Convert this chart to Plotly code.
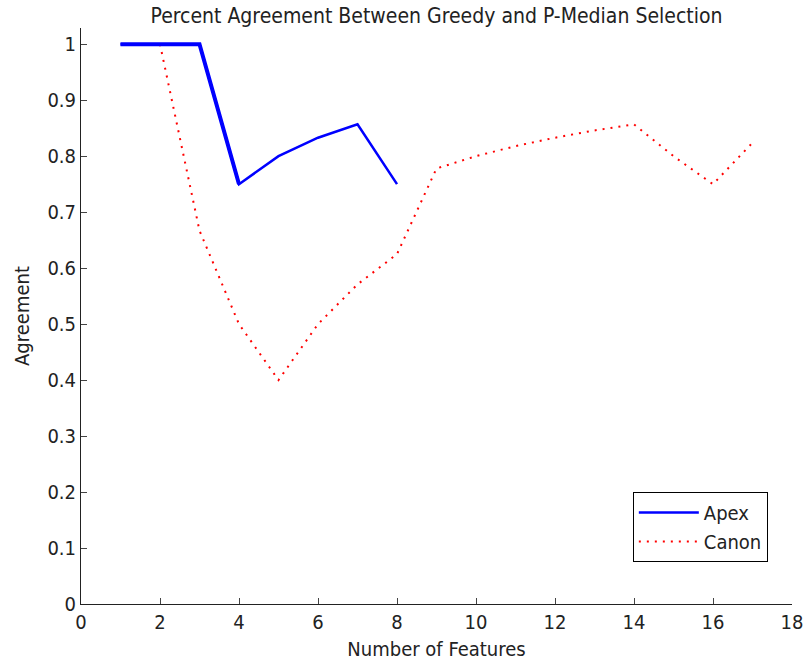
import plotly.graph_objects as go

apex_x = [1, 2, 3, 4, 5, 6, 7, 8]
apex_y = [1.0, 1.0, 1.0, 0.75, 0.8, 0.833, 0.857, 0.75]
canon_x = [2, 3, 4, 5, 6, 7, 8, 9, 10, 11, 12, 13, 14, 15, 16, 17]
canon_y = [1.0, 0.667, 0.5, 0.4, 0.5, 0.571, 0.625, 0.778, 0.8, 0.818,
           0.833, 0.846, 0.857, 0.8, 0.75, 0.824]
x_ticks = [0, 2, 4, 6, 8, 10, 12, 14, 16, 18]
y_ticks = [0, 0.1, 0.2, 0.3, 0.4, 0.5, 0.6, 0.7, 0.8, 0.9, 1]
y_tick_labels = ["0", "0.1", "0.2", "0.3", "0.4", "0.5", "0.6", "0.7", "0.8", "0.9", "1"]

FONT = "DejaVu Sans Condensed, Liberation Sans Narrow, Liberation Sans, Arial, sans-serif"
TEXT = "#222222"
W, H = 805, 661
L, R, T, B = 81, 13, 28, 57

fig = go.Figure()
fig.add_trace(go.Scatter(x=canon_x, y=canon_y, mode="lines", name="Canon",
                         line=dict(color="#ff0000", width=2, dash="2px,6px")))
fig.add_trace(go.Scatter(x=apex_x, y=apex_y, mode="lines", name="Apex",
                         line=dict(color="#0000ff", width=2.5)))
fig.add_trace(go.Scatter(x=apex_x[:4], y=apex_y[:4], mode="lines", showlegend=False,
                         line=dict(color="#0000ff", width=4), hoverinfo="skip"))

fig.update_layout(
    width=W, height=H,
    margin=dict(l=L, r=R, t=T, b=B, autoexpand=False),
    paper_bgcolor="white", plot_bgcolor="white",
    font=dict(family=FONT, size=20, color=TEXT),
    title=dict(text="Percent Agreement Between Greedy and P-Median Selection",
               x=(L + (W - R)) / 2 / W, xanchor="center", y=1 - 16 / H, yanchor="middle",
               font=dict(family=FONT, size=21, color=TEXT)),
    legend=dict(x=0.966, y=0.073, xanchor="right", yanchor="bottom",
                bordercolor="black", borderwidth=1, bgcolor="white",
                traceorder="reversed", itemwidth=60,
                font=dict(family=FONT, size=20, color=TEXT)),
    showlegend=True,
)
fig.update_xaxes(range=[0, 18], tickvals=x_ticks, ticks="inside", ticklen=6,
                 showline=True, linecolor="#222222", linewidth=1, mirror=False,
                 showgrid=False, zeroline=False, automargin=False,
                 title=dict(text="Number of Features", standoff=8,
                            font=dict(family=FONT, size=20)),
                 tickfont=dict(family=FONT, size=20))
fig.update_yaxes(range=[0, 1.029], tickvals=y_ticks, ticktext=y_tick_labels,
                 ticks="inside", ticklen=6,
                 showline=True, linecolor="#222222", linewidth=1, mirror=False,
                 showgrid=False, zeroline=False, automargin=False,
                 title=dict(text="Agreement", standoff=12,
                            font=dict(family=FONT, size=20)),
                 tickfont=dict(family=FONT, size=20))

fig.write_html("out.html", config={"displayModeBar": False},
               post_script="document.body.style.margin='0px';")
